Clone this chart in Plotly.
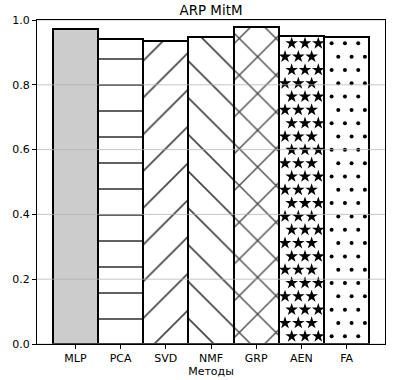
import plotly.graph_objects as go
import numpy as np

methods = ["MLP", "PCA", "SVD", "NMF", "GRP", "AEN", "FA"]
scores = [0.972, 0.940, 0.934, 0.948, 0.979, 0.950, 0.949]
hatches = ["", "-", "/", "\\", "x", "", ""]
fills = ["#cccccc", "white", "white", "white", "white", "white", "white"]
y_ticks = [0.0, 0.2, 0.4, 0.6, 0.8, 1.0]
title = "ARP MitM"
x_label = "Методы"

FONT = "DejaVu Sans"
xpos = list(range(len(methods)))
solid = [0.065 if h != "x" else 0.1 for h in hatches]

fig = go.Figure()
fig.add_trace(go.Bar(
    x=xpos, y=scores, width=1.0,
    marker=dict(
        color=fills,
        line=dict(color="black", width=2),
        pattern=dict(shape=hatches, fgcolor="black", fgopacity=1,
                     size=26, solidity=solid, fillmode="overlay"),
    ),
    showlegend=False,
))

# marker-based hatches (stars for AEN, dots for FA) on a staggered grid
DX, DY = 0.2946, 0.0411
X0, Y0 = 4.785, 0.928


def grid_points(i, top, edge):
    px, py = [], []
    r = 0
    y = Y0 + DY * 2 * 3
    while y > 0.01:
        if y < top - 0.018:
            off = 0.0 if r % 2 == 0 else DX / 2
            for k in range(-30, 30):
                x = X0 + off + k * DX
                if i - 0.5 + edge <= x <= i + 0.5 - edge:
                    px.append(x)
                    py.append(y)
        r += 1
        y -= DY
    return px, py


i_aen = methods.index("AEN")
sx, sy = grid_points(i_aen, scores[i_aen], 0.085)
fig.add_trace(go.Scatter(x=sx, y=sy, mode="markers",
                         marker=dict(symbol="star", size=9.5, color="black", line=dict(width=0)),
                         showlegend=False, hoverinfo="skip"))
i_fa = methods.index("FA")
dx_, dy_ = grid_points(i_fa, scores[i_fa], 0.04)
fig.add_trace(go.Scatter(x=dx_, y=dy_, mode="markers",
                         marker=dict(symbol="circle", size=4, color="black", line=dict(width=0)),
                         showlegend=False, hoverinfo="skip"))

# grid lines drawn above bars (as in reference)
for t in y_ticks:
    fig.add_shape(type="line", xref="paper", x0=0, x1=1, yref="y", y0=t, y1=t,
                  line=dict(color="rgba(176,176,176,0.9)", width=0.8), layer="above")

fig.update_layout(
    width=398, height=380,
    margin=dict(l=37, r=13, t=20, b=36, autoexpand=False),
    paper_bgcolor="white", plot_bgcolor="white",
    font=dict(family=FONT, size=11, color="black"),
    title=dict(text=title, x=0.5, xanchor="center", xref="paper",
               yref="container", y=1 - 10 / 380, yanchor="middle", automargin=False,
               font=dict(family=FONT, size=13.4, color="black")),
    bargap=0,
)
fig.update_xaxes(
    range=[-0.85, len(methods) - 1 + 0.85],
    tickvals=xpos, ticktext=methods,
    ticks="outside", ticklen=4, tickcolor="black",
    showline=True, linecolor="black", linewidth=1, mirror=True,
    showgrid=False, zeroline=False, automargin=False,
    title=dict(text=x_label, standoff=3, font=dict(family=FONT, size=11)),
)
fig.update_yaxes(
    range=[0, 1.0],
    tickvals=y_ticks, ticktext=[f"{t:.1f}" for t in y_ticks],
    ticks="outside", ticklen=4, tickcolor="black",
    showline=True, linecolor="black", linewidth=1, mirror=True,
    showgrid=False, zeroline=False, automargin=False,
)

fig.write_html("out.html", config={"displayModeBar": False},
               post_script="document.body.style.margin='0';")
